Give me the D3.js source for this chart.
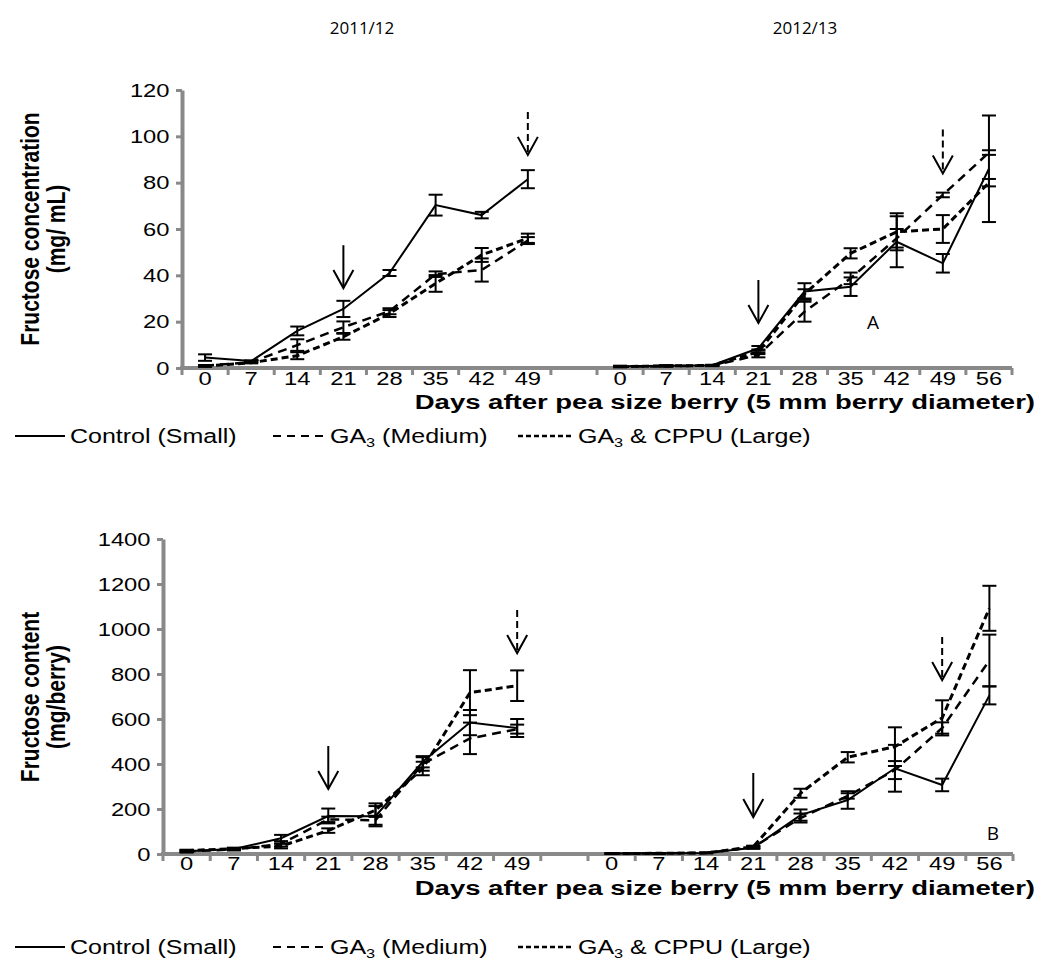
<!DOCTYPE html>
<html>
<head>
<meta charset="utf-8">
<script src="https://d3js.org/d3.v7.min.js"></script>
<style>
  body { margin: 0; background: #fff; }
  svg { display: block; }
</style>
</head>
<body>
<script>
// ---- data ----
const days1 = [0, 7, 14, 21, 28, 35, 42, 49];        // 2011/12
const days2 = [0, 7, 14, 21, 28, 35, 42, 49, 56];    // 2012/13
const seasons = ["2011/12", "2012/13"];
const concTicks = [0, 20, 40, 60, 80, 100, 120];
const contTicks = [0, 200, 400, 600, 800, 1000, 1200, 1400];

// fructose concentration (mg/mL), mean and error
const concCtrl1 = [4.5, 3.0, 16.0, 25.5, 41.0, 70.3, 66.0, 81.5];
const concCtrlErr1 = [1.4, 0.3, 1.9, 3.5, 1.3, 4.5, 1.4, 3.9];
const concGA1 = [1.0, 2.5, 9.9, 17.6, 24.5, 40.5, 42.3, 55.0];
const concGAErr1 = [0.3, 0.3, 2.5, 2.5, 1.3, 1.2, 5.0, 1.5];
const concCP1 = [0.8, 2.3, 5.3, 13.5, 23.5, 36.5, 48.8, 56.0];
const concCPErr1 = [0.3, 0.3, 1.5, 1.3, 1.5, 3.6, 3.0, 2.0];

const concCtrl2 = [0.8, 1.0, 1.2, 8.5, 33.0, 35.1, 54.5, 45.2, 86.0];
const concCtrlErr2 = [0.2, 0.2, 0.2, 1.0, 3.6, 4.0, 11.0, 4.0, 23.0];
const concGA2 = [0.5, 0.8, 1.0, 5.6, 24.3, 38.7, 56.0, 74.7, 93.0];
const concGAErr2 = [0.2, 0.2, 0.2, 1.0, 4.3, 2.5, 4.0, 1.0, 1.0];
const concCP2 = [0.6, 0.9, 1.1, 7.0, 32.0, 49.5, 58.8, 60.0, 80.0];
const concCPErr2 = [0.2, 0.2, 0.2, 1.0, 2.0, 2.2, 8.0, 6.0, 1.6];

// fructose content (mg/berry)
const contCtrl1 = [12, 22, 70, 169, 168, 410, 584, 560];
const contCtrlErr1 = [5, 5, 15, 33, 45, 25, 56, 40];
const contGA1 = [12, 20, 45, 154, 150, 400, 514, 555];
const contGAErr1 = [4, 4, 12, 12, 20, 30, 70, 20];
const contCP1 = [15, 24, 35, 104, 195, 380, 717, 748];
const contCPErr1 = [4, 4, 10, 10, 30, 30, 100, 68];

const contCtrl2 = [2, 3, 4, 28, 173, 240, 381, 307, 705];
const contCtrlErr2 = [1, 1, 1, 5, 25, 39, 104, 28, 40];
const contGA2 = [2, 3, 5, 30, 160, 258, 373, 560, 860];
const contGAErr2 = [1, 1, 1, 5, 20, 12, 40, 25, 115];
const contCP2 = [2, 3, 5, 32, 270, 430, 477, 605, 1092];
const contCPErr2 = [1, 1, 1, 5, 20, 23, 86, 78, 100];

// arrows: day slot, start value, tip value
const concArrows = [
  {slot: "a21", from: 53, to: 34.5, dashed: false},
  {slot: "a49", from: 110.5, to: 92, dashed: true},
  {slot: "b21", from: 38, to: 19.4, dashed: false},
  {slot: "b49", from: 103, to: 84, dashed: true}
];
const contArrows = [
  {slot: "a21", from: 480, to: 289, dashed: false},
  {slot: "a49", from: 1084, to: 893, dashed: true},
  {slot: "b21", from: 360, to: 164, dashed: false},
  {slot: "b49", from: 964, to: 773, dashed: true}
];

const seriesNames = ["Control (Small)", "GA3 (Medium)", "GA3 & CPPU (Large)"];

// ---- drawing ----
const W = 1044, H = 972;
const SX = 1.25;          // the original figure is stretched sideways
const axisColor = "#898989";
const font = "Arial, 'Liberation Sans', sans-serif";
const styles = [
  {dash: null, width: 2, legendDash: null, legendWidth: 2},
  {dash: "9,6", width: 2.5, legendDash: "8,6", legendWidth: 2},
  {dash: "7,4", width: 3, legendDash: "5,3", legendWidth: 2.5}
];

const svg = d3.select("body").append("svg")
  .attr("width", W)
  .attr("height", H);

// season titles
svg.selectAll(".season")
  .data(seasons)
  .enter()
  .append("text")
  .attr("x", (d, i) => i == 0 ? 362 : 805)
  .attr("y", 34)
  .attr("text-anchor", "middle")
  .attr("font-family", "'Open Sans', sans-serif")
  .attr("font-size", 17)
  .text(d => d);

const slots = days1.map(d => "a" + d).concat(["gap"], days2.map(d => "b" + d));

function drawPanel(p) {
  let g = svg.append("g");

  let x = d3.scaleBand().domain(slots).range([p.left, p.right]);
  let y = d3.scaleLinear().domain([0, p.yMax]).range([p.y0, p.yTop]);
  let bw = x.bandwidth();

  // y axis
  let gy = g.append("g")
    .attr("transform", "translate(" + p.left + ",0)")
    .call(d3.axisLeft(y).tickValues(p.ticks).tickFormat(d3.format("d"))
      .tickSize(6).tickSizeOuter(0).tickPadding(4));
  gy.attr("font-family", font).attr("font-size", 19);
  gy.select(".domain").attr("stroke", axisColor).attr("stroke-width", 4);
  gy.selectAll(".tick line").attr("stroke", axisColor).attr("stroke-width", 3);
  gy.selectAll(".tick text").attr("fill", "#000").attr("transform", "scale(" + SX + ",1)");

  // x axis (labels at centres, ticks between categories)
  let gx = g.append("g")
    .attr("transform", "translate(0," + p.y0 + ")")
    .call(d3.axisBottom(x).tickSize(0).tickSizeOuter(0)
      .tickFormat(d => d == "gap" ? "" : d.slice(1)));
  gx.attr("font-family", font).attr("font-size", 19);
  gx.select(".domain").attr("stroke", axisColor).attr("stroke-width", 4)
    .attr("d", "M" + (p.left - 2) + ",0H" + p.right);
  gx.selectAll(".tick text").attr("fill", "#000").attr("y", p.labelY)
    .attr("transform", "scale(" + SX + ",1)");
  let edges = slots.map(s => x(s)).concat([p.right]);
  gx.selectAll(".edge")
    .data(edges)
    .enter()
    .append("line")
    .attr("x1", d => d).attr("x2", d => d)
    .attr("y1", 0).attr("y2", 7)
    .attr("stroke", axisColor)
    .attr("stroke-width", 3);

  // series
  let line = d3.line()
    .x(d => x(d.slot) + bw / 2)
    .y(d => y(d.v));

  p.series.forEach((s, k) => {
    let st = styles[k];
    [[days1, "a", s[0], s[1]], [days2, "b", s[2], s[3]]].forEach(part => {
      let pts = part[0].map((d, i) => ({slot: part[1] + d, v: part[2][i], e: part[3][i]}));
      g.append("path")
        .datum(pts)
        .attr("d", line)
        .attr("fill", "none")
        .attr("stroke", "#000")
        .attr("stroke-width", st.width)
        .attr("stroke-dasharray", st.dash);

      let eb = g.append("g").attr("stroke", "#000").attr("stroke-width", 2);
      pts.forEach(d => {
        let cx = x(d.slot) + bw / 2;
        eb.append("line").attr("x1", cx).attr("x2", cx)
          .attr("y1", y(d.v - d.e)).attr("y2", y(d.v + d.e));
        [d.v - d.e, d.v + d.e].forEach(v => {
          eb.append("line").attr("x1", cx - 7).attr("x2", cx + 7)
            .attr("y1", y(v)).attr("y2", y(v));
        });
      });
    });
  });

  // arrows
  p.arrows.forEach(a => {
    let ax = x(a.slot) + bw / 2;
    let ag = g.append("g").attr("stroke", "#000").attr("stroke-width", 2).attr("fill", "none");
    ag.append("line")
      .attr("x1", ax).attr("x2", ax)
      .attr("y1", y(a.from)).attr("y2", y(a.to))
      .attr("stroke-dasharray", a.dashed ? "7,4" : null);
    ag.append("path")
      .attr("d", "M" + (ax - 10) + "," + (y(a.to) - 18) + "L" + ax + "," + y(a.to) + "L" + (ax + 10) + "," + (y(a.to) - 18));
  });

  // panel letter
  g.append("text")
    .attr("x", p.letter[1]).attr("y", p.letter[2])
    .attr("font-family", "'Open Sans', sans-serif")
    .attr("font-size", 19)
    .attr("text-anchor", "middle")
    .text(p.letter[0]);

  // y title
  let yt = g.append("g")
    .attr("transform", "translate(39," + p.yTitleY + ") scale(" + SX + ",1) rotate(-90)");
  p.yTitle.forEach((t, i) => {
    yt.append("text")
      .attr("y", i * 21)
      .attr("text-anchor", "middle")
      .attr("font-family", font)
      .attr("font-weight", "bold")
      .attr("font-size", 21)
      .text(t);
  });

  // x title
  g.append("text")
    .attr("transform", "translate(1035," + p.xTitleY + ") scale(1.375,1)")
    .attr("text-anchor", "end")
    .attr("font-family", font)
    .attr("font-weight", "bold")
    .attr("font-size", 20)
    .text("Days after pea size berry (5 mm berry diameter)");

  // legend
  let lx = [[15, 65, 70], [273, 325, 330], [518, 573, 578]];
  seriesNames.forEach((name, k) => {
    let st = styles[k];
    g.append("line")
      .attr("x1", lx[k][0]).attr("x2", lx[k][1])
      .attr("y1", p.legendY - 7).attr("y2", p.legendY - 7)
      .attr("stroke", "#000")
      .attr("stroke-width", st.legendWidth)
      .attr("stroke-dasharray", st.legendDash);
    let t = g.append("text")
      .attr("transform", "translate(" + lx[k][2] + "," + p.legendY + ") scale(" + SX + ",1)")
      .attr("font-family", font)
      .attr("font-size", 20);
    if (name.indexOf("GA3") == 0) {
      t.append("tspan").text("GA");
      t.append("tspan").attr("font-size", 13).attr("dy", 4).text("3");
      t.append("tspan").attr("dy", -4).text(name.slice(3));
    } else {
      t.text(name);
    }
  });
}

drawPanel({
  left: 182, right: 1012, y0: 368, yTop: 90, yMax: 120, ticks: concTicks, labelY: 4,
  series: [
    [concCtrl1, concCtrlErr1, concCtrl2, concCtrlErr2],
    [concGA1, concGAErr1, concGA2, concGAErr2],
    [concCP1, concCPErr1, concCP2, concCPErr2]
  ],
  arrows: concArrows,
  letter: ["A", 873, 329],
  yTitle: ["Fructose concentration", "(mg/ mL)"], yTitleY: 229,
  xTitleY: 409, legendY: 443
});

drawPanel({
  left: 163, right: 1013, y0: 854, yTop: 539, yMax: 1400, ticks: contTicks, labelY: 3,
  series: [
    [contCtrl1, contCtrlErr1, contCtrl2, contCtrlErr2],
    [contGA1, contGAErr1, contGA2, contGAErr2],
    [contCP1, contCPErr1, contCP2, contCPErr2]
  ],
  arrows: contArrows,
  letter: ["B", 993, 840],
  yTitle: ["Fructose content", "(mg/berry)"], yTitleY: 697,
  xTitleY: 895, legendY: 954
});
</script>
</body>
</html>
